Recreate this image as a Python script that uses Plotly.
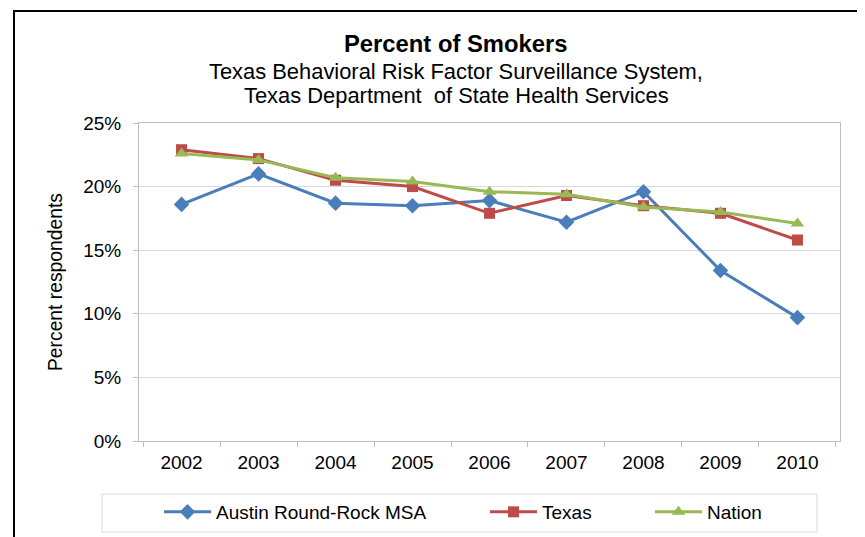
import plotly.graph_objects as go

years = ["2002", "2003", "2004", "2005", "2006", "2007", "2008", "2009", "2010"]
austin = [18.6, 21.0, 18.7, 18.5, 18.9, 17.2, 19.6, 13.4, 9.7]
texas = [22.9, 22.2, 20.5, 20.0, 17.9, 19.3, 18.5, 17.9, 15.8]
nation = [22.6, 22.1, 20.7, 20.4, 19.6, 19.4, 18.4, 18.0, 17.1]
y_ticks = [0, 5, 10, 15, 20, 25]
y_tick_text = ["0%", "5%", "10%", "15%", "20%", "25%"]

W, H = 865, 537
OFF = 8  # page offset of the figure (body margin)
# plot area in page px
PL, PR, PT, PB = 139, 840, 123, 441
L, R, T, B = PL - OFF, PR - OFF, PT - OFF, PB - OFF


def px_x(x):
    return (x - PL) / (PR - PL)


def px_y(y):
    return (PB - y) / (PB - PT)


FONT = "Liberation Sans, Arial, sans-serif"

fig = go.Figure()
series = [
    ("Austin Round-Rock MSA", austin, "#4A7EBB", "diamond", 12, "legend2"),
    ("Texas", texas, "#BE4B48", "square", 11, "legend3"),
    ("Nation", nation, "#98B954", "triangle-up", 12, "legend4"),
]
for name, vals, col, sym, size, lg in series:
    fig.add_trace(go.Scatter(
        x=years, y=vals, name=name, mode="lines+markers",
        line=dict(color=col, width=3),
        marker=dict(symbol=sym, size=size, color=col, line=dict(width=0)),
        legend=lg,
    ))

legend_common = dict(orientation="h", bgcolor="rgba(0,0,0,0)", borderwidth=0,
                     font=dict(family=FONT, size=19, color="#000000"),
                     yanchor="middle", xanchor="left", itemwidth=47)

fig.update_layout(
    width=W, height=H,
    margin=dict(l=L, r=W - R, t=T, b=H - B, autoexpand=False),
    paper_bgcolor="white", plot_bgcolor="white",
    font=dict(family=FONT, size=19, color="#000000"),
    showlegend=True,
    legend2=dict(x=px_x(159), y=px_y(512), **legend_common),
    legend3=dict(x=px_x(485), y=px_y(512), **legend_common),
    legend4=dict(x=px_x(650), y=px_y(512), **legend_common),
    xaxis=dict(
        type="category", tickson="boundaries", ticks="outside", ticklen=5,
        tickcolor="#BFBFBF", showgrid=False, showline=True, linecolor="#BFBFBF",
        linewidth=1, mirror=True, ticklabelstandoff=4,
        tickfont=dict(family=FONT, size=19, color="#000000"),
    ),
    yaxis=dict(
        range=[0, 25], tickmode="array", tickvals=y_ticks, ticktext=y_tick_text,
        ticks="outside", ticklen=5,
        tickcolor="#BFBFBF", showgrid=True, gridcolor="#D9D9D9", gridwidth=1,
        showline=True, linecolor="#BFBFBF", linewidth=1, mirror=True,
        zeroline=False, ticklabelstandoff=8,
        tickfont=dict(family=FONT, size=19, color="#000000"),
    ),
    annotations=[
        dict(text="<b>Percent of Smokers</b>", x=px_x(456), y=px_y(44),
             xref="paper", yref="paper", showarrow=False, xanchor="center", yanchor="middle",
             font=dict(family=FONT, size=23.8, color="#000000")),
        dict(text="Texas Behavioral Risk Factor Surveillance System,", x=px_x(456), y=px_y(71.5),
             xref="paper", yref="paper", showarrow=False, xanchor="center", yanchor="middle",
             font=dict(family=FONT, size=21.9, color="#000000")),
        dict(text="Texas Department  of State Health Services", x=px_x(456), y=px_y(95.5),
             xref="paper", yref="paper", showarrow=False, xanchor="center", yanchor="middle",
             font=dict(family=FONT, size=21.9, color="#000000")),
        dict(text="Percent respondents", x=px_x(55), y=0.5, textangle=-90,
             xref="paper", yref="paper", showarrow=False, xanchor="center", yanchor="middle",
             font=dict(family=FONT, size=19.3, color="#000000")),
    ],
    shapes=[
        dict(type="line", xref="paper", yref="paper", x0=px_x(14), x1=px_x(14),
             y0=px_y(11), y1=px_y(545), line=dict(color="#000000", width=2)),
        dict(type="line", xref="paper", yref="paper", x0=px_x(13), x1=px_x(875),
             y0=px_y(11), y1=px_y(11), line=dict(color="#000000", width=2)),
        dict(type="rect", xref="paper", yref="paper", x0=px_x(102), x1=px_x(817),
             y0=px_y(532), y1=px_y(494), line=dict(color="#D9D9D9", width=1)),
    ],
)

fig.write_html("out.html")
